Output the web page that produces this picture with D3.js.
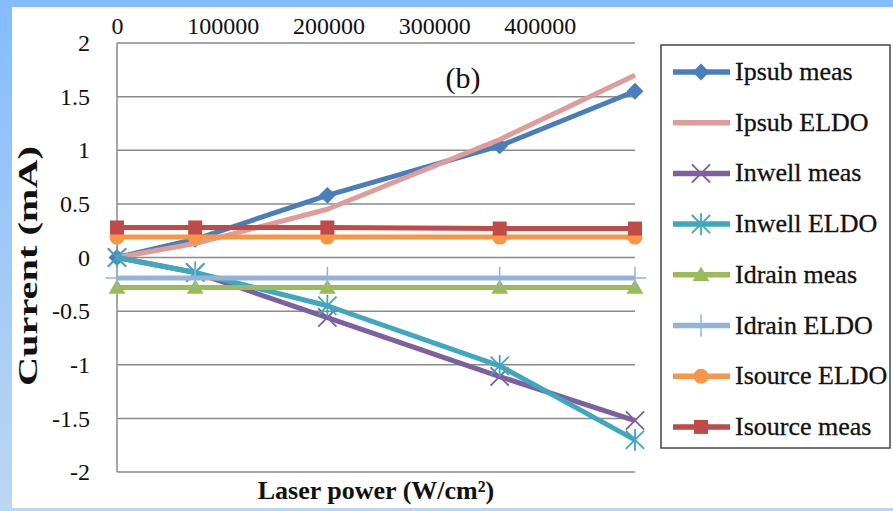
<!DOCTYPE html>
<html><head><meta charset="utf-8">
<script src="https://cdn.jsdelivr.net/npm/d3@7/dist/d3.min.js"></script>
<style>body{margin:0;padding:0;overflow:hidden}svg{display:block}</style>
</head><body>
<svg id="c" width="893" height="511"></svg>
<script>
const powers = [0, 74000, 199000, 362000, 490000];
const xTicks = [0, 100000, 200000, 300000, 400000];
const yTicks = [2, 1.5, 1, 0.5, 0, -0.5, -1, -1.5, -2];
const seriesNames = ["Ipsub meas","Ipsub ELDO","Inwell meas","Inwell ELDO","Idrain meas","Idrain ELDO","Isource ELDO","Isource meas"];
const ipsubMeas   = [0, 0.17, 0.58, 1.04, 1.55];
const ipsubEldo   = [0, 0.13, 0.45, 1.10, 1.70];
const inwellMeas  = [0, -0.14, -0.56, -1.11, -1.52];
const inwellEldo  = [0, -0.14, -0.45, -1.01, -1.70];
const idrainMeas  = [-0.28, -0.28, -0.28, -0.28, -0.28];
const idrainEldo  = [-0.19, -0.19, -0.19, -0.19, -0.19];
const isourceEldo = [0.19, 0.19, 0.19, 0.19, 0.19];
const isourceMeas = [0.28, 0.28, 0.28, 0.27, 0.27];

const colors = ["#4a7ebb","#df9c9b","#7d60a0","#3fa8bf","#9bbb59","#95b3d7","#f79646","#be4b48"];
const markers = ["diamond","none","x","star","triangle","plus","circle","square"];
const values = [ipsubMeas, ipsubEldo, inwellMeas, inwellEldo, idrainMeas, idrainEldo, isourceEldo, isourceMeas];

const svg = d3.select("#c");
const W = 893, H = 511;
const defs = svg.append("defs");
const g = defs.append("linearGradient").attr("id","bg").attr("x1",0).attr("y1",0).attr("x2",0).attr("y2",1);
g.append("stop").attr("offset","0%").attr("stop-color","#84bcff");
g.append("stop").attr("offset","100%").attr("stop-color","#bcd6f2");
svg.append("rect").attr("width",W).attr("height",H).attr("fill","url(#bg)");
svg.append("rect").attr("x",12).attr("y",7).attr("width",W-12).attr("height",501).attr("fill","#ffffff");

const x = d3.scaleLinear().domain([0, 490000]).range([117, 635]);
const y = d3.scaleLinear().domain([-2, 2]).range([472, 43]);
const font = "Liberation Serif";

svg.append("g").selectAll("line").data(yTicks).join("line")
  .attr("x1", x(0)).attr("x2", x(490000))
  .attr("y1", d => y(d)).attr("y2", d => y(d))
  .attr("stroke", "#8a8a8a").attr("stroke-width", 1.5);
svg.append("line").attr("x1", x(0)).attr("x2", x(0)).attr("y1", y(2)).attr("y2", y(-2))
  .attr("stroke", "#8a8a8a").attr("stroke-width", 1.5);

const yAxis = d3.axisLeft(y).tickValues(yTicks).tickSize(0).tickPadding(27)
  .tickFormat(d => String(d));
const ya = svg.append("g").attr("transform", `translate(${x(0)},0)`).call(yAxis);
ya.select(".domain").remove();
ya.selectAll("text").attr("font-family", font).attr("font-size", 24).attr("fill", "#111");

const xAxis = d3.axisTop(x).tickValues(xTicks).tickSize(0).tickPadding(8).tickFormat(d => String(d));
const xa = svg.append("g").attr("transform", `translate(0,${y(2)-1})`).call(xAxis);
xa.select(".domain").remove();
xa.selectAll("text").attr("font-family", font).attr("font-size", 24).attr("fill", "#111");

svg.append("text").attr("x", 376).attr("y", 499).attr("text-anchor","middle")
  .attr("font-family", font).attr("font-weight","bold").attr("font-size", 26).attr("fill","#111")
  .text("Laser power (W/cm²)");
svg.append("text").attr("transform","translate(37,266) rotate(-90)").attr("text-anchor","middle")
  .attr("font-family", font).attr("font-weight","bold").attr("font-size", 27).attr("fill","#111")
  .attr("textLength", 240).attr("lengthAdjust","spacingAndGlyphs")
  .text("Current (mA)");
svg.append("text").attr("x", 463).attr("y", 88).attr("text-anchor","middle")
  .attr("font-family", font).attr("font-size", 30).attr("fill","#111").text("(b)");

function drawMarker(sel, type, color, cx, cy, s) {
  const gg = sel.append("g").attr("transform", `translate(${cx},${cy})`);
  if (type === "diamond") {
    gg.append("path").attr("d", `M0,${-s*0.6}L${s*0.6},0L0,${s*0.6}L${-s*0.6},0Z`).attr("fill", color);
  } else if (type === "square") {
    gg.append("rect").attr("x",-s/2).attr("y",-s/2).attr("width",s).attr("height",s).attr("fill",color);
  } else if (type === "circle") {
    gg.append("circle").attr("r", s/2+0.5).attr("fill", color);
  } else if (type === "triangle") {
    gg.append("path").attr("d", `M0,${-s*0.6}L${s*0.6},${s*0.45}L${-s*0.6},${s*0.45}Z`).attr("fill", color);
  } else if (type === "x") {
    const r = s*0.65;
    gg.append("path").attr("d", `M${-r},${-r}L${r},${r}M${-r},${r}L${r},${-r}`).attr("stroke", color).attr("stroke-width", 1.8).attr("fill","none");
  } else if (type === "star") {
    const r = s*0.65;
    gg.append("path").attr("d", `M${-r},${-r}L${r},${r}M${-r},${r}L${r},${-r}M0,${-r*1.2}L0,${r*1.2}`).attr("stroke", color).attr("stroke-width", 1.8).attr("fill","none");
  } else if (type === "plus") {
    const r = s*0.8;
    gg.append("path").attr("d", `M0,${-r}L0,${r}M${-r},0L${r},0`).attr("stroke", color).attr("stroke-width", 1.5).attr("fill","none");
  }
}

const line = d3.line().x((d,i) => x(powers[i])).y(d => y(d));
const plot = svg.append("g");
values.forEach((vals, k) => {
  plot.append("path").datum(vals).attr("d", line).attr("fill","none")
    .attr("stroke", colors[k]).attr("stroke-width", 5).attr("stroke-linejoin","round");
  vals.forEach((v, i) => {
    if (markers[k] !== "none") drawMarker(plot, markers[k], colors[k], x(powers[i]), y(v), 14);
  });
});

const lg = svg.append("g");
lg.append("rect").attr("x", 661).attr("y", 45).attr("width", 229).attr("height", 403)
  .attr("fill","#fff").attr("stroke","#444").attr("stroke-width",1.5);
seriesNames.forEach((name, k) => {
  const ly = 72 + k*50.7;
  lg.append("line").attr("x1", 673).attr("x2", 730).attr("y1", ly).attr("y2", ly)
    .attr("stroke", colors[k]).attr("stroke-width", 5.5);
  if (markers[k] !== "none") drawMarker(lg, markers[k], colors[k], 701, ly, 14);
  lg.append("text").attr("x", 735).attr("y", ly + 8).attr("font-family", font)
    .attr("font-size", 26).attr("fill","#111").attr("stroke","#111").attr("stroke-width",0.3)
    .text(name);
});
</script>
</body></html>
